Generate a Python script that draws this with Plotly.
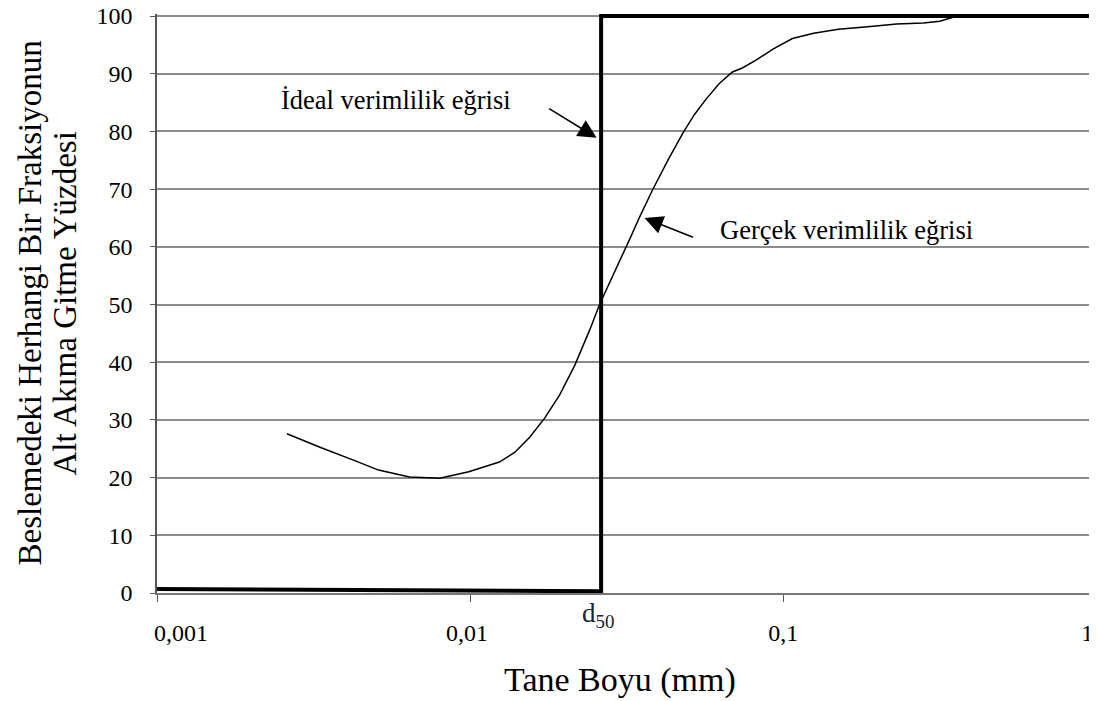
import plotly.graph_objects as go

size_mm = [0.0026, 0.0033, 0.0043, 0.0051, 0.0064, 0.0080, 0.0099, 0.0124, 0.0139,
           0.0155, 0.0173, 0.0193, 0.0216, 0.0241, 0.0259, 0.0280, 0.0301, 0.0325,
           0.0348, 0.0382, 0.0430, 0.0478, 0.0520, 0.0567, 0.0625, 0.0688, 0.0740,
           0.0821, 0.0930, 0.107, 0.125, 0.150, 0.190, 0.230, 0.280, 0.316, 0.36]
pct_under = [27.6, 25.3, 22.9, 21.3, 20.1, 19.9, 21.0, 22.7, 24.4,
             27.0, 30.3, 34.3, 39.5, 45.6, 50.0, 53.9, 57.7, 61.6,
             65.2, 69.8, 75.2, 79.7, 82.9, 85.6, 88.3, 90.3, 91.0,
             92.4, 94.3, 96.1, 97.0, 97.7, 98.2, 98.6, 98.8, 99.1, 100.0]

# ideal curve (step at d50)
d50 = 0.0262
ideal_x = [0.001, d50, d50, 1.0]
ideal_y = [0.7, 0.3, 100, 100]

x_ticks = [0.001, 0.01, 0.1, 1]
# padding spaces nudge the end labels inward, as in the original
x_tick_text = ["\u00a0" * 8 + "0,001", "0,01" + "\u00a0", "0,1", "1" + "\u00a0" * 3]
y_ticks = list(range(0, 101, 10))

FONT = "Liberation Serif, Times New Roman, serif"

fig = go.Figure()
fig.add_trace(go.Scatter(x=ideal_x, y=ideal_y, mode="lines",
                         line=dict(color="black", width=4), hoverinfo="skip"))
fig.add_trace(go.Scatter(x=size_mm, y=pct_under, mode="lines",
                         line=dict(color="black", width=1.5),
                         hoverinfo="skip"))

# arrows
arrow = dict(showarrow=True, arrowhead=2, arrowsize=2.3, arrowwidth=1.6,
             arrowcolor="black", text="", xref="x", yref="y")
fig.add_annotation(x=-1.596, y=78.9, ax=-49, ay=-30, **arrow)
fig.add_annotation(x=-1.443, y=65.0, ax=50, ay=20, **arrow)

# labels
fig.add_annotation(text="İdeal verimlilik eğrisi", x=-2.237, y=85.4, xref="x", yref="y",
                   showarrow=False, font=dict(size=26.5, color="black"))
fig.add_annotation(text="Gerçek verimlilik eğrisi", x=-0.799, y=62.9, xref="x", yref="y",
                   showarrow=False, font=dict(size=26.5, color="black"))
fig.add_annotation(text="d<sub>50</sub>", x=-1.592, y=0, xref="x", yref="paper",
                   yanchor="middle", yshift=-22,
                   showarrow=False, font=dict(size=27, color="#1c2033"))

# axis titles (figure starts 8px into the page)
fig.add_annotation(text="Tane Boyu (mm)", x=0.4925, y=0, xref="paper", yref="paper",
                   xanchor="center", yanchor="middle", yshift=-87,
                   showarrow=False, font=dict(size=34, color="black"))
fig.add_annotation(text="Beslemedeki Herhangi Bir Fraksiyonun",
                   x=0, y=0.5, xref="paper", yref="paper", xanchor="center",
                   yanchor="middle", xshift=-128, textangle=-90,
                   showarrow=False, font=dict(size=33, color="black"))
fig.add_annotation(text="Alt Akıma Gitme Yüzdesi",
                   x=0, y=0.5, xref="paper", yref="paper", xanchor="center",
                   yanchor="middle", xshift=-93, textangle=-90,
                   showarrow=False, font=dict(size=33, color="black"))

# the page adds an 8px body margin, so the figure is a bit smaller than the window
fig.update_layout(
    width=1089, height=693,
    margin=dict(l=149, r=0, t=6, b=108),
    paper_bgcolor="white", plot_bgcolor="white",
    showlegend=False,
    font=dict(family=FONT, size=24, color="black"),
)
fig.update_xaxes(
    type="log", range=[-3, 0.002], automargin=False,
    tickvals=x_ticks, ticktext=x_tick_text,
    ticks="outside", ticklen=7, tickcolor="#555",
    ticklabelstandoff=10, ticklabeloverflow="allow",
    showgrid=False, zeroline=False,
    showline=True, linecolor="#777", linewidth=1.5,
)
fig.update_yaxes(
    range=[0, 100.35], automargin=False,
    tickvals=y_ticks,
    ticks="outside", ticklen=5, tickcolor="#555",
    ticklabelstandoff=13, ticklabeloverflow="allow",
    showgrid=True, gridcolor="#8c8c8c", gridwidth=1.5,
    zeroline=False,
    showline=True, linecolor="#555", linewidth=1.5,
)

fig.write_html("out.html")
